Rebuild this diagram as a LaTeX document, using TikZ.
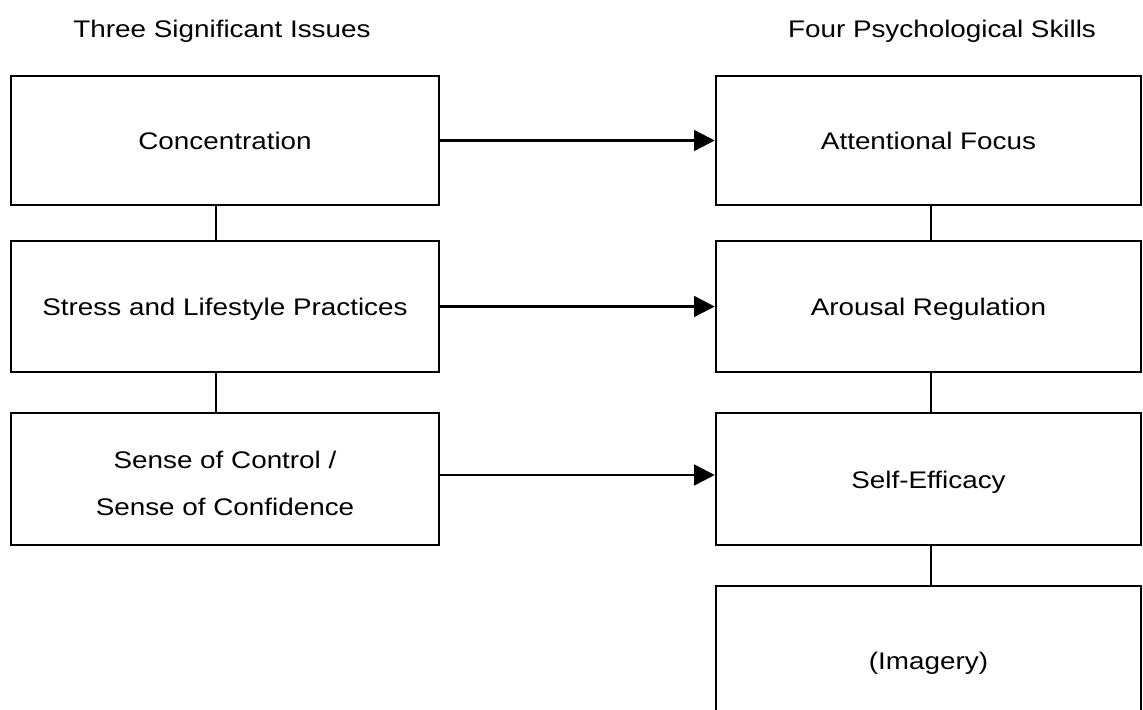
\documentclass[tikz,border=0pt]{standalone}
\usepackage{fontspec}
\setmainfont[FakeStretch=1.16]{Liberation Sans}
\usetikzlibrary{arrows.meta}
\begin{document}
\begin{tikzpicture}[x=0.75pt,y=-0.75pt,
  line width=1.9pt,
  every node/.style={font=\fontsize{18pt}{35pt}\selectfont},
  box/.style={draw, rectangle, inner sep=0pt, align=center,
              text height=16pt, text depth=2.4pt},
  twoline/.style={text height=56pt, text depth=1.1pt},
  leftbox/.style={box, minimum width=321pt},
  rightbox/.style={box, minimum width=318.75pt},
  arr/.style={-{Triangle[length=15.5pt,width=15.5pt]}}]
\useasboundingbox (0,0) rectangle (1143,710);
% column headings
\node[anchor=base] (h1) at (222,38) {Three Significant Issues};
\node[anchor=base] (h2) at (942,38) {Four Psychological Skills};
% left column: issues
\node[leftbox, minimum height=96.75pt] (l1) at (225,140.5) {Concentration};
\node[leftbox, minimum height=98.25pt] (l2) at (225,306.5) {Stress and Lifestyle Practices};
\node[leftbox, twoline, minimum height=99pt] (l3) at (225,479) {Sense of Control /\\Sense of Confidence};
% right column: skills
\node[rightbox, minimum height=96.75pt] (r1) at (928.5,140.5) {Attentional Focus};
\node[rightbox, minimum height=98.25pt] (r2) at (928.5,306.5) {Arousal Regulation};
\node[rightbox, minimum height=99pt] (r3) at (928.5,479) {Self-Efficacy};
\node[rightbox, minimum height=111pt] (r4) at (928.5,660) {(Imagery)};
% vertical links
\draw ([xshift=-6.75pt]l1.south) -- ([xshift=-6.75pt]l2.north);
\draw ([xshift=-6.75pt]l2.south) -- ([xshift=-6.75pt]l3.north);
\draw ([xshift=1.9pt]r1.south) -- ([xshift=1.9pt]r2.north);
\draw ([xshift=1.9pt]r2.south) -- ([xshift=1.9pt]r3.north);
\draw ([xshift=1.9pt]r3.south) -- ([xshift=1.9pt]r4.north);
% arrows from issues to skills
\draw[arr] (l1.east) -- (r1.west);
\draw[arr] (l2.east) -- (r2.west);
\draw[arr] ([yshift=3pt]l3.east) -- ([yshift=3pt]r3.west);
\end{tikzpicture}
\end{document}
